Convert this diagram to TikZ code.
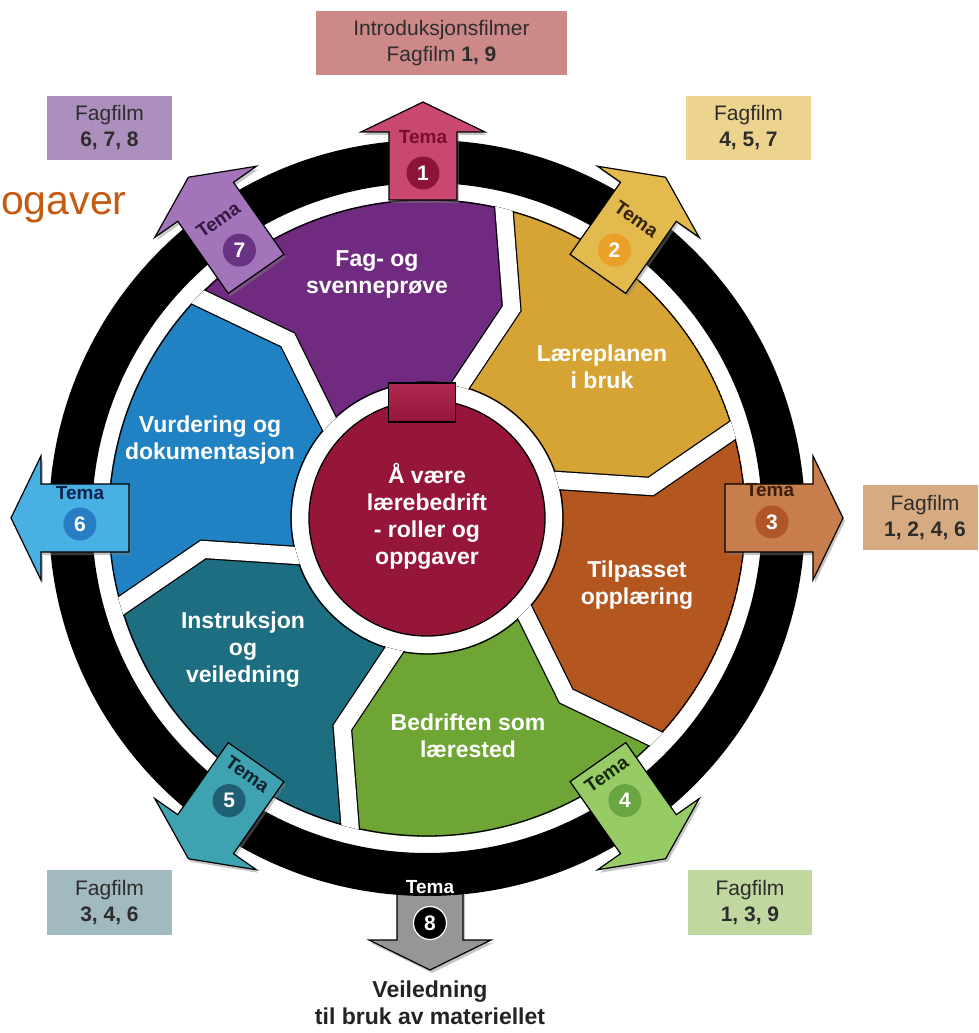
\documentclass[tikz,border=0pt]{standalone}
\usepackage{fontspec}
\setmainfont{Liberation Sans}
\usetikzlibrary{calc,shadows}

\definecolor{cpurple}{RGB}{112,42,128}
\definecolor{cyellow}{RGB}{214,164,52}
\definecolor{cbrown}{RGB}{180,86,32}
\definecolor{cgreen}{RGB}{110,165,52}
\definecolor{cteal}{RGB}{30,110,130}
\definecolor{cblue}{RGB}{32,130,195}
\definecolor{ccrim}{RGB}{150,22,58}
\definecolor{ctab}{RGB}{175,40,80}
\definecolor{orangeT}{RGB}{197,90,17}
\definecolor{boxtxt}{RGB}{45,45,45}
\definecolor{boxrose}{RGB}{205,136,136}
\definecolor{boxlav}{RGB}{172,143,188}
\definecolor{boxyel}{RGB}{236,211,142}
\definecolor{boxtan}{RGB}{214,171,130}
\definecolor{boxgb}{RGB}{160,186,192}
\definecolor{boxgr}{RGB}{192,215,160}
\definecolor{tafill}{RGB}{200,72,112}
\definecolor{tatxt}{RGB}{120,15,45}
\definecolor{tacirc}{RGB}{140,20,55}
\definecolor{tbfill}{RGB}{226,186,78}
\definecolor{tbtxt}{RGB}{50,35,10}
\definecolor{tbcirc}{RGB}{235,160,40}
\definecolor{tcfill}{RGB}{200,126,76}
\definecolor{tctxt}{RGB}{60,30,10}
\definecolor{tccirc}{RGB}{175,85,40}
\definecolor{tdfill}{RGB}{152,202,102}
\definecolor{tdtxt}{RGB}{20,40,10}
\definecolor{tdcirc}{RGB}{105,165,65}
\definecolor{tefill}{RGB}{62,162,176}
\definecolor{tetxt}{RGB}{15,35,45}
\definecolor{tecirc}{RGB}{30,95,115}
\definecolor{tffill}{RGB}{72,176,226}
\definecolor{tftxt}{RGB}{15,35,75}
\definecolor{tfcirc}{RGB}{40,125,195}
\definecolor{tgfill}{RGB}{162,116,186}
\definecolor{tgtxt}{RGB}{50,25,65}
\definecolor{tgcirc}{RGB}{105,50,130}
\definecolor{thfill}{RGB}{150,150,150}
\definecolor{veiltxt}{RGB}{35,35,35}

\newcommand{\fsz}[2]{\fontsize{#1}{#2}\selectfont}
% angle, inner radius, fill colour
\newcommand{\temaarrow}[3]{%
  \begin{scope}[rotate=#1]
    \path[arrowshape, fill=#3] (#2,-34) -- (386,-34) -- (386,-62) -- (416,0)
      -- (386,62) -- (386,34) -- (#2,34) -- cycle;
  \end{scope}}

\begin{document}
\begin{tikzpicture}[x=1pt,y=1pt,
  seclabel/.style={text=white, font=\bfseries\fsz{23}{27}, align=center, inner sep=0},
  temat/.style={font=\bfseries\fsz{19}{23}, inner sep=0},
  numc/.style={circle, inner sep=0, minimum size=33, text=white, font=\bfseries\fsz{21}{24}},
  box/.style={align=center, inner sep=0, text=boxtxt, font=\fsz{21}{26}},
  arrowshape/.style={draw=black, line width=1.2, line join=miter,
     drop shadow={shadow xshift=2, shadow yshift=-3, opacity=0.45}},
]
\useasboundingbox (-427,-515) rectangle (551,518);
\clip (-427,-515) rectangle (551,518);
\fill[white] (-427,-515) rectangle (551,518);

% orange title fragment
\node[anchor=base west, inner sep=0, text=orangeT, font=\fsz{41}{45}] (title) at (-426,303) {ogaver};

% film boxes
\node[box, fill=boxrose, minimum width=251, minimum height=64] (bintro) at (14.5,475)
  {Introduksjonsfilmer\\Fagfilm \textbf{1, 9}};
\node[box, fill=boxlav, minimum width=125, minimum height=64] (bsev) at (-317.5,390)
  {Fagfilm\\\textbf{6, 7, 8}};
\node[box, fill=boxyel, minimum width=125, minimum height=64] (btwo) at (321.5,390)
  {Fagfilm\\\textbf{4, 5, 7}};
\node[box, fill=boxtan, minimum width=124, minimum height=65] (bthree) at (498,0.5)
  {Fagfilm\\\textbf{1, 2, 4, 6}};
\node[box, fill=boxgb, minimum width=125, minimum height=65] (bfive) at (-317.5,-384.5)
  {Fagfilm\\\textbf{3, 4, 6}};
\node[box, fill=boxgr, minimum width=124, minimum height=65] (bfour) at (323,-384.5)
  {Fagfilm\\\textbf{1, 3, 9}};

% Tema 8 arrow (under the ring)
\path[arrowshape, fill=thfill] (-30,-365) -- (36,-365) -- (36,-422) -- (64,-422)
  -- (3,-452) -- (-58,-422) -- (-30,-422) -- cycle;

% black ring
\draw[line width=43] (0,0) circle (356.5);

% sector boundaries
\foreach \k in {0,...,6}{
  \pgfmathsetmacro\ph{136-60*\k}
  \coordinate (M\k) at (\ph-8:226);
  \coordinate (Pi\k) at (\ph:136);
  \coordinate (Po\k) at (\ph:318);
  \coordinate (Ei\k) at ($(M\k)!1.4!(Pi\k)$);
  \coordinate (Eo\k) at ($(M\k)!1.4!(Po\k)$);
}
\begin{scope}
  \clip (318.8,0) arc[start angle=0,end angle=360,radius=318.8] -- (135.2,0)
        arc[start angle=360,end angle=0,radius=135.2] -- cycle;
  \foreach \j/\c in {0/cpurple,1/cyellow,2/cbrown,3/cgreen,4/cteal,5/cblue}{
    \pgfmathtruncatemacro\jn{\j+1}
    \pgfmathsetmacro\pf{136-60*\j-30}
    \fill[\c] (Eo\j) -- (M\j) -- (Ei\j) -- (0,0) -- (Ei\jn) -- (M\jn) -- (Eo\jn) -- (\pf:700) -- cycle;
  }
  \draw[line width=1.3] (0,0) circle (318) (0,0) circle (136);
  \foreach \k in {0,...,5}{
    \draw[line width=19.5] (Ei\k) -- (M\k) -- (Eo\k);
    \draw[white, line width=17] (Ei\k) -- (M\k) -- (Eo\k);
  }
\end{scope}

% sector labels
\node[seclabel] (lfag) at (-50,244) {Fag- og\\svennepr\o ve};
\node[seclabel] (llaer) at (175,151.5) {L\ae replanen\\i bruk};
\node[seclabel] (ltilp) at (210,-67) {Tilpasset\\oppl\ae ring};
\node[seclabel] (lbedr) at (41,-218) {Bedriften som\\l\ae rested};
\node[seclabel] (linst) at (-184,-132) {Instruksjon\\og\\veiledning};
\node[seclabel] (lvurd) at (-217,78) {Vurdering og\\dokumentasjon};

% centre circle and tab
\draw[fill=ccrim, line width=1.3] (0,0) circle (118);
\draw[top color=ctab, bottom color=ccrim, line width=1.2] (-38.5,96) rectangle (28.5,135);
\node[seclabel] (lcent) at (0,2) {\AA{} v\ae re\\l\ae rebedrift\\- roller og\\oppgaver};

% Tema arrows
\begin{scope}[xshift=-4]
  \path[arrowshape, fill=tafill] (-34,318) -- (-34,386) -- (-62,386) -- (0,416)
    -- (62,386) -- (34,386) -- (34,318) -- cycle;
\end{scope}
\temaarrow{55}{298}{tbfill}
\temaarrow{0}{298}{tcfill}
\temaarrow{-55}{298}{tdfill}
\temaarrow{-125}{298}{tefill}
\temaarrow{180}{298}{tffill}
\temaarrow{125}{298}{tgfill}

% Tema labels and numbers
\node[temat, text=tatxt] (tt1) at (-4,381) {Tema};
\node[numc, fill=tacirc] (n1) at (-4,345) {1};
\node[temat, text=tbtxt, rotate=-35] (tt2) at (55:365) {Tema};
\node[numc, fill=tbcirc] (n2) at (55:327) {2};
\node[temat, text=tctxt] (tt3) at (343,28) {Tema};
\node[numc, fill=tccirc] (n3) at (345,-4) {3};
\node[temat, text=tdtxt, rotate=35] (tt4) at (-55:313) {Tema};
\node[numc, fill=tdcirc] (n4) at (-55:345) {4};
\node[temat, text=tetxt, rotate=-35] (tt5) at (-125:313) {Tema};
\node[numc, fill=tecirc] (n5) at (-125:345) {5};
\node[temat, text=tftxt] (tt6) at (-347,25) {Tema};
\node[numc, fill=tfcirc] (n6) at (-347,-6) {6};
\node[temat, text=tgtxt, rotate=35] (tt7) at (125:364) {Tema};
\node[numc, fill=tgcirc] (n7) at (125:327) {7};
\node[temat, text=white] (tt8) at (3,-369) {Tema};
\node[numc, fill=black, draw=white, line width=1.2] (n8) at (3,-405) {8};

% bottom text
\node[font=\bfseries\fsz{23}{27}, align=center, text=veiltxt, inner sep=0] (veil) at (3,-485)
  {Veiledning\\til bruk av materiellet};
\end{tikzpicture}
\end{document}
